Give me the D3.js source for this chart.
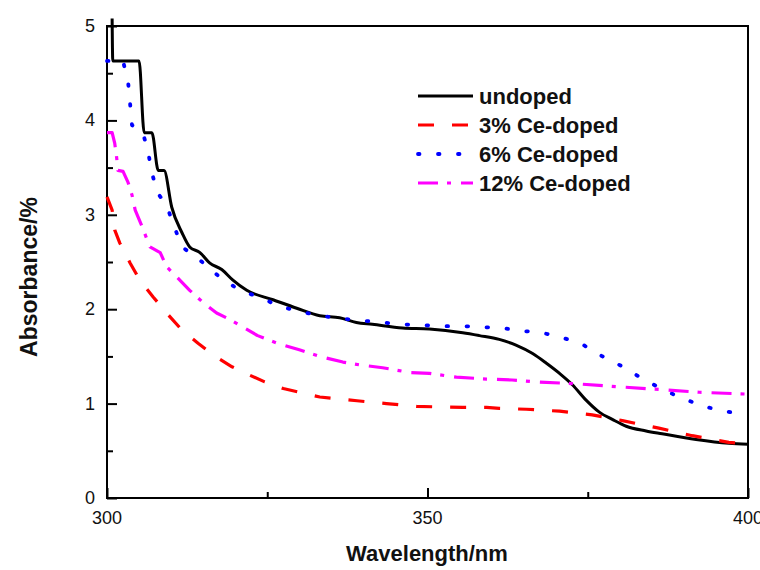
<!DOCTYPE html>
<html>
<head>
<meta charset="utf-8">
<script src="https://cdn.jsdelivr.net/npm/d3@7"></script>
<style>
  body { margin: 0; background: #fff; }
  svg { display: block; font-family: "Liberation Sans", Arial, sans-serif; }
  .tick-label { font-size: 18px; fill: #111; }
  .axis-title { font-size: 22px; font-weight: bold; fill: #111; }
  .legend-text { font-size: 22px; font-weight: bold; fill: #111; }
</style>
</head>
<body>
<div id="chart"></div>
<script>
// series names
const seriesNames = ['undoped', '3% Ce-doped', '6% Ce-doped', '12% Ce-doped'];

// [wavelength nm, absorbance %]
const undoped = [
  [300.8, 5.08], [300.9, 4.63], [305.0, 4.63], [305.8, 3.87], [307.0, 3.87],
  [308.0, 3.47], [308.9, 3.47], [310.1, 3.08], [311.7, 2.81], [312.9, 2.66],
  [314.5, 2.60], [316.0, 2.49], [317.9, 2.42], [319.6, 2.31], [321.8, 2.20],
  [325.9, 2.10], [329.6, 2.01], [333.2, 1.93], [336.3, 1.91], [338.9, 1.86],
  [341.4, 1.84], [346.1, 1.80], [350.3, 1.79], [355.5, 1.75], [358.1, 1.72],
  [361.2, 1.68], [363.8, 1.62], [366.4, 1.53], [368.5, 1.43], [370.6, 1.32],
  [372.6, 1.20], [374.7, 1.04], [376.8, 0.91], [378.9, 0.83], [381.0, 0.76],
  [384.1, 0.71], [386.6, 0.68], [391.9, 0.62], [397.0, 0.58], [400.0, 0.57]
];

const ce3 = [
  [300.0, 3.19], [300.8, 3.05], [301.2, 2.84], [302.0, 2.70], [303.6, 2.49],
  [305.1, 2.31], [307.2, 2.13], [309.3, 1.96], [311.8, 1.77], [314.2, 1.64],
  [317.1, 1.49], [319.5, 1.39], [322.3, 1.30], [324.6, 1.23], [327.5, 1.16],
  [330.0, 1.12], [333.2, 1.07], [336.0, 1.05], [339.0, 1.03], [343.6, 1.00],
  [348.3, 0.97], [355.5, 0.96], [359.2, 0.96], [361.2, 0.95], [365.4, 0.94],
  [370.6, 0.92], [375.7, 0.88], [377.3, 0.86], [380.4, 0.82], [386.1, 0.74],
  [391.3, 0.66], [397.0, 0.59], [400.0, 0.57]
];

const ce6 = [
  [300.0, 4.63], [302.5, 4.63], [303.3, 4.40], [303.6, 4.18], [303.9, 3.95],
  [305.6, 3.87], [306.4, 3.67], [307.0, 3.45], [307.8, 3.24], [309.3, 3.10],
  [310.4, 2.89], [311.7, 2.66], [314.5, 2.52], [317.6, 2.34], [320.7, 2.20],
  [324.1, 2.12], [326.9, 2.03], [330.4, 1.97], [333.5, 1.93], [336.6, 1.90],
  [339.7, 1.88], [342.8, 1.86], [345.9, 1.84], [349.2, 1.83], [352.3, 1.82],
  [355.5, 1.82], [358.6, 1.81], [361.7, 1.80], [364.8, 1.77], [367.9, 1.75],
  [371.0, 1.70], [374.1, 1.63], [377.3, 1.50], [380.5, 1.39], [383.6, 1.26],
  [387.0, 1.14], [390.0, 1.05], [393.1, 0.97], [396.3, 0.92], [400.0, 0.88]
];

const ce12 = [
  [300.0, 3.87], [300.8, 3.87], [301.2, 3.76], [301.5, 3.61], [301.7, 3.47],
  [302.5, 3.46], [303.3, 3.34], [303.9, 3.21], [304.4, 3.05], [305.5, 2.87],
  [306.7, 2.66], [308.3, 2.60], [309.3, 2.45], [310.9, 2.34], [312.9, 2.20],
  [315.0, 2.07], [317.1, 1.96], [319.2, 1.89], [321.2, 1.81], [323.5, 1.72],
  [326.5, 1.64], [330.0, 1.57], [333.2, 1.50], [336.8, 1.44], [339.4, 1.41],
  [343.0, 1.38], [347.2, 1.33], [350.3, 1.32], [354.5, 1.28], [359.2, 1.26],
  [363.2, 1.25], [367.0, 1.23], [373.2, 1.21], [379.4, 1.18], [386.1, 1.15],
  [392.4, 1.12], [400.0, 1.10]
];

// axis ticks
const xTicks = [300, 350, 400];
const xMinorTicks = [325, 375];
const yTicks = [0, 1, 2, 3, 4, 5];
const yMinorTicks = [0.5, 1.5, 2.5, 3.5, 4.5];

const width = 760, height = 570;
const margin = {top: 26, right: 12, bottom: 72, left: 107};
const plotW = width - margin.left - margin.right;
const plotH = height - margin.top - margin.bottom;

const styles = [
  {color: '#000000', width: 3, dash: null, cap: 'butt', curve: d3.curveMonotoneX},
  {color: '#ff0000', width: 3.2, dash: '16,18', cap: 'butt', curve: d3.curveLinear},
  {color: '#0000ff', width: 3.8, dash: '1.5,18.5', cap: 'round', curve: d3.curveLinear},
  {color: '#ff00ff', width: 3.2, dash: '20,9,4,10', cap: 'butt', curve: d3.curveLinear}
];
const allSeries = [undoped, ce3, ce6, ce12];

const svg = d3.select('#chart').append('svg')
    .attr('width', width)
    .attr('height', height);

const g = svg.append('g')
    .attr('transform', 'translate(' + margin.left + ',' + margin.top + ')');

const xScale = d3.scaleLinear().domain([300, 400]).range([0, plotW]);
const yScale = d3.scaleLinear().domain([0, 5]).range([plotH, 0]);

// X axis (ticks inside)
g.append('g')
    .attr('transform', 'translate(0,' + plotH + ')')
    .call(d3.axisBottom(xScale).tickValues(xTicks).tickSizeInner(-10).tickSizeOuter(0).tickFormat(''))
    .call(a => a.select('.domain').remove())
    .call(a => a.selectAll('line').attr('stroke', '#000').attr('stroke-width', 2));

g.append('g')
    .attr('transform', 'translate(0,' + plotH + ')')
    .call(d3.axisBottom(xScale).tickValues(xMinorTicks).tickSizeInner(-6).tickSizeOuter(0).tickFormat(''))
    .call(a => a.select('.domain').remove())
    .call(a => a.selectAll('line').attr('stroke', '#000').attr('stroke-width', 2));

// Y axis (ticks inside)
g.append('g')
    .call(d3.axisLeft(yScale).tickValues(yTicks).tickSizeInner(-10).tickSizeOuter(0).tickFormat(''))
    .call(a => a.select('.domain').remove())
    .call(a => a.selectAll('line').attr('stroke', '#000').attr('stroke-width', 2));

g.append('g')
    .call(d3.axisLeft(yScale).tickValues(yMinorTicks).tickSizeInner(-6).tickSizeOuter(0).tickFormat(''))
    .call(a => a.select('.domain').remove())
    .call(a => a.selectAll('line').attr('stroke', '#000').attr('stroke-width', 2));

// tick labels
g.selectAll('.x-label')
    .data(xTicks)
    .enter().append('text')
    .attr('class', 'tick-label')
    .attr('x', d => xScale(d))
    .attr('y', plotH + 26)
    .attr('text-anchor', 'middle')
    .text(d => d);

g.selectAll('.y-label')
    .data(yTicks)
    .enter().append('text')
    .attr('class', 'tick-label')
    .attr('x', -12)
    .attr('y', d => yScale(d) + 6)
    .attr('text-anchor', 'end')
    .text(d => d);

// frame
g.append('rect')
    .attr('width', plotW)
    .attr('height', plotH)
    .attr('fill', 'none')
    .attr('stroke', '#000')
    .attr('stroke-width', 2);

// curves
allSeries.forEach(function (data, i) {
    const s = styles[i];
    const line = d3.line()
        .curve(s.curve)
        .x(d => xScale(d[0]))
        .y(d => yScale(d[1]));
    g.append('path')
        .datum(data)
        .attr('fill', 'none')
        .attr('stroke', s.color)
        .attr('stroke-width', s.width)
        .attr('stroke-dasharray', s.dash)
        .attr('stroke-linecap', s.cap)
        .attr('stroke-linejoin', 'round')
        .attr('d', line);
});

// axis titles
svg.append('text')
    .attr('class', 'axis-title')
    .attr('x', 427)
    .attr('y', 561)
    .attr('text-anchor', 'middle')
    .text('Wavelength/nm');

svg.append('text')
    .attr('class', 'axis-title')
    .attr('transform', 'translate(37,277) rotate(-90)')
    .attr('text-anchor', 'middle')
    .style('font-size', '23px')
    .text('Absorbance/%');

// legend
const legend = svg.append('g')
    .attr('transform', 'translate(418,96)');

seriesNames.forEach(function (name, i) {
    const s = styles[i];
    const row = legend.append('g')
        .attr('transform', 'translate(0,' + (i * 29) + ')');
    row.append('line')
        .attr('x1', 0).attr('x2', 55)
        .attr('y1', 0).attr('y2', 0)
        .attr('stroke', s.color)
        .attr('stroke-width', s.width)
        .attr('stroke-dasharray', s.dash)
        .attr('stroke-linecap', s.cap);
    row.append('text')
        .attr('class', 'legend-text')
        .attr('x', 61)
        .attr('y', 8)
        .text(name);
});
</script>
</body>
</html>
